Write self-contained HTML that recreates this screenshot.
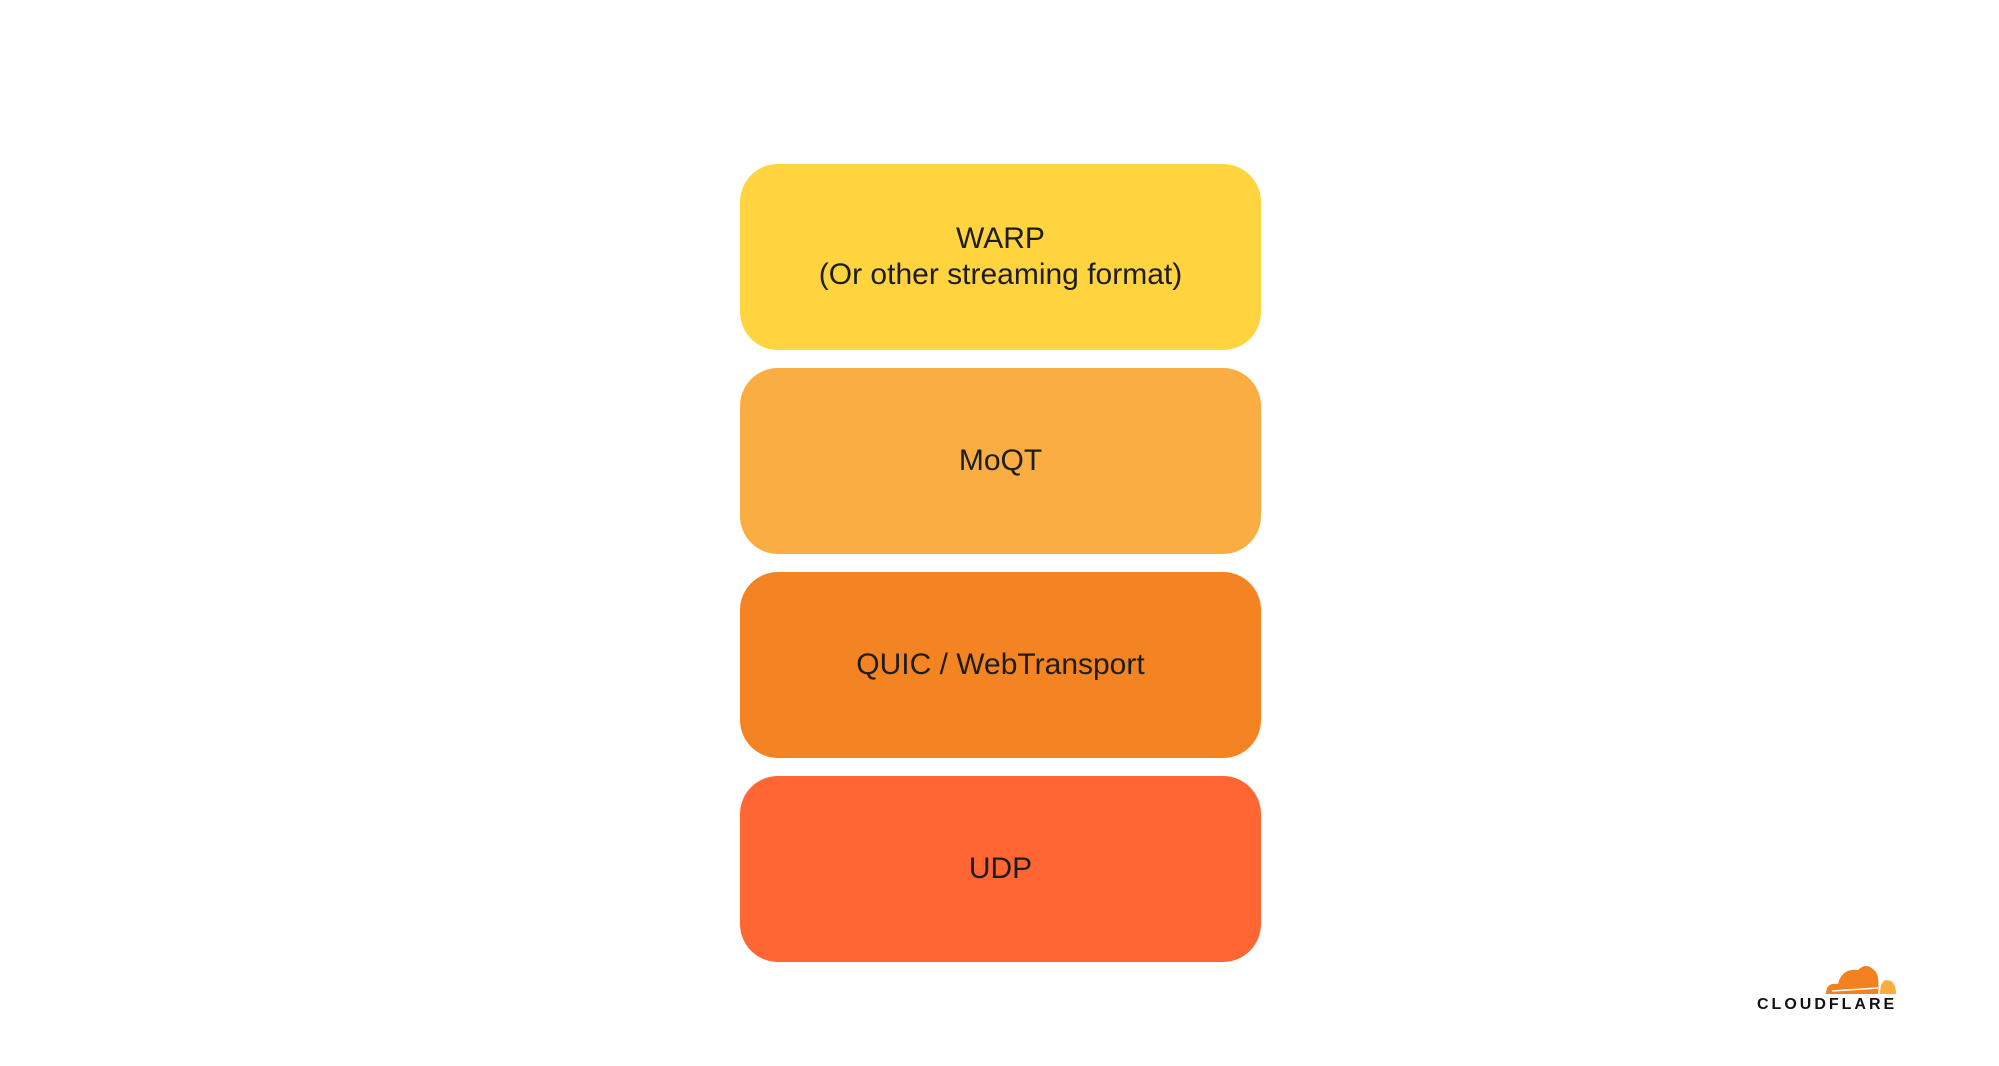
<!DOCTYPE html>
<html><head><style>
html,body{margin:0;padding:0;background:#fff;}
body{width:1999px;height:1066px;position:relative;overflow:hidden;font-family:"Liberation Sans",sans-serif;}
.b{position:absolute;left:740px;width:521px;height:186px;border-radius:38px;display:flex;align-items:center;justify-content:center;text-align:center;color:#1d1d1d;font-size:30px;line-height:36px;}
</style></head><body>
<div class="b" style="top:164px;background:#ffd43f;">WARP<br>(Or other streaming format)</div>
<div class="b" style="top:368px;background:#faad42;">MoQT</div>
<div class="b" style="top:572px;background:#f48321;">QUIC / WebTransport</div>
<div class="b" style="top:776px;background:#ff6633;">UDP</div>
<svg style="position:absolute;left:1822px;top:960px" width="76" height="36" viewBox="0 0 76 36">
<path d="M4 34 Q4 22 16 24 Q20 8 36 10 Q44 2 52 10 Q58 14 56 34 Z" fill="#f48120"/>
<path d="M58 34 Q58 22 64 20 Q74 20 74 34 Z" fill="#faad3f"/>
<line x1="10" y1="31" x2="56" y2="28" stroke="#fff" stroke-width="1.5"/>
</svg>
<div style="position:absolute;left:1757px;top:996px;font-size:16px;font-weight:bold;letter-spacing:3px;color:#111;">CLOUDFLARE</div>
</body></html>
